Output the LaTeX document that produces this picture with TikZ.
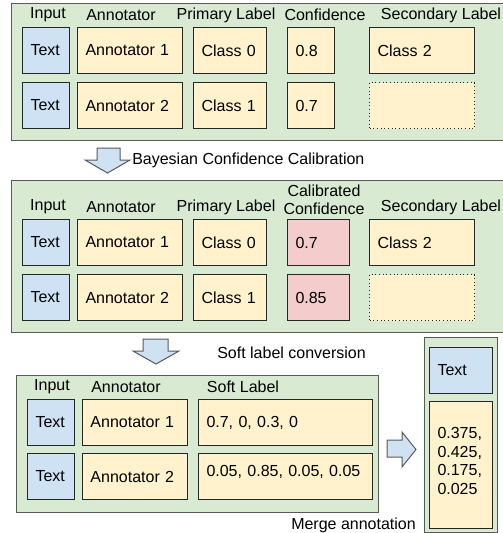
\documentclass[tikz,border=0pt]{standalone}
\usepackage{xcolor}
\usepackage{fontspec}
\setmainfont{Liberation Sans}
\usepackage{tikz}
\usetikzlibrary{positioning}

\definecolor{panelgreen}{HTML}{D9EAD3}
\definecolor{cellyellow}{HTML}{FFF2CC}
\definecolor{inputblue}{HTML}{CFE2F3}
\definecolor{calpink}{HTML}{F4CCCC}
\definecolor{panelline}{HTML}{595959}

\begin{document}
\begin{tikzpicture}[x=0.75pt,y=-0.75pt,
  every node/.style={font=\fontsize{12}{14}\selectfont},
  panel/.style={draw=panelline,line width=0.9pt,fill=panelgreen,anchor=north west,inner sep=0pt},
  cell/.style={draw=black!85,line width=0.75pt,fill=cellyellow,anchor=north west,
    inner xsep=6pt,inner ysep=0pt,minimum height=34.5pt,align=left},
  inputcell/.style={cell,fill=inputblue},
  calcell/.style={cell,fill=calpink},
  emptycell/.style={cell,dotted},
  head/.style={inner sep=0pt,align=center,font=\fontsize{12}{13.5}\selectfont},
  note/.style={inner sep=0pt,anchor=west},
  blockarrow/.style={draw=panelline,line width=0.75pt,fill=inputblue,line join=miter}]

    \useasboundingbox (0,0) rectangle (503,533);

    % raw annotations
    \node[panel,minimum width=372pt,minimum height=102.75pt](raw) at (11,3) {};
    \node[head](rawin) at (48,15) {Input};
    \node[head](rawann) at (121,15) {Annotator};
    \node[head](rawpri) at (226,15) {Primary Label};
    \node[head](rawconf) at (325,15) {Confidence};
    \node[head](rawsec) at (441,15) {Secondary Label};

    \node[inputcell,text width=23.25pt](in1) at (22,27) {Text};
    \node[cell,text width=66.75pt](ann1) at (77,27) {Annotator 1};
    \node[cell,text width=42.75pt](pri1) at (193,27) {Class 0};
    \node[cell,text width=23.25pt](conf1) at (287,27) {0.8};
    \node[cell,text width=66.75pt](sec1) at (369,27) {Class 2};

    \node[inputcell,text width=23.25pt](in2) at (22,82) {Text};
    \node[cell,text width=66.75pt](ann2) at (77,82) {Annotator 2};
    \node[cell,text width=42.75pt](pri2) at (193,82) {Class 1};
    \node[cell,text width=23.25pt](conf2) at (287,82) {0.7};
    \node[emptycell,text width=66.75pt](sec2) at (369,82) {};

    % calibration step
    \draw[blockarrow] (97,148) -- (120,148) -- (120,160) -- (130,160) -- (107.5,173)
      -- (85,160) -- (97,160) -- cycle;
    \node[note](calibnote) at (132,160) {Bayesian Confidence Calibration};

    % calibrated annotations
    \node[panel,minimum width=372pt,minimum height=114pt](cal) at (11,180) {};
    \node[head](calin) at (48,207) {Input};
    \node[head](calann) at (121,207) {Annotator};
    \node[head](calpri) at (226,207) {Primary Label};
    \node[head](calconf) at (324,200) {Calibrated\\Confidence};
    \node[head](calsec) at (441,207) {Secondary Label};

    \node[inputcell,text width=23.25pt](cin1) at (22,219) {Text};
    \node[cell,text width=66.75pt](cann1) at (77,219) {Annotator 1};
    \node[cell,text width=42.75pt](cpri1) at (193,219) {Class 0};
    \node[calcell,text width=34.5pt](cconf1) at (287,219) {0.7};
    \node[cell,text width=66.75pt](csec1) at (369,219) {Class 2};

    \node[inputcell,text width=23.25pt](cin2) at (22,274) {Text};
    \node[cell,text width=66.75pt](cann2) at (77,274) {Annotator 2};
    \node[cell,text width=42.75pt](cpri2) at (193,274) {Class 1};
    \node[calcell,text width=34.5pt](cconf2) at (287,274) {0.85};
    \node[emptycell,text width=66.75pt](csec2) at (369,274) {};

    % soft label step
    \draw[blockarrow] (143,339) -- (168,339) -- (168,351) -- (179,351) -- (156,364)
      -- (133,351) -- (143,351) -- cycle;
    \node[note](softnote) at (217,353) {Soft label conversion};

    % soft labels
    \node[panel,minimum width=271.5pt,minimum height=102.75pt](soft) at (16,375) {};
    \node[head](softin) at (52,387) {Input};
    \node[head](softann) at (126,387) {Annotator};
    \node[head](softlab) at (243,387) {Soft Label};

    \node[inputcell,text width=23.25pt](sin1) at (27,399) {Text};
    \node[cell,text width=66.75pt](sann1) at (82,399) {Annotator 1};
    \node[cell,text width=118.5pt](slab1) at (198,399) {0.7, 0, 0.3, 0};

    \node[inputcell,text width=23.25pt](sin2) at (27,453) {Text};
    \node[cell,text width=66.75pt](sann2) at (82,453) {Annotator 2};
    \node[cell,text width=118.5pt,text depth=8pt](slab2) at (198,453) {0.05, 0.85, 0.05, 0.05};

    % merge step
    \draw[blockarrow] (387,440) -- (402,440) -- (402,432) -- (416,449.5) -- (402,467)
      -- (402,457) -- (387,457) -- cycle;
    \node[note](mergenote) at (291,525) {Merge annotation};

    % merged result
    \node[panel,minimum width=54.75pt,minimum height=146.25pt](merged) at (424,337) {};
    \node[inputcell,text width=35.25pt](min) at (429,347) {Text};
    \node[cell,text width=35.25pt,minimum height=95.25pt](mlab) at (429,401)
      {0.375,\\[0pt]0.425,\\[0pt]0.175,\\[0pt]0.025\\[-8pt]\mbox{}};
\end{tikzpicture}
\end{document}
